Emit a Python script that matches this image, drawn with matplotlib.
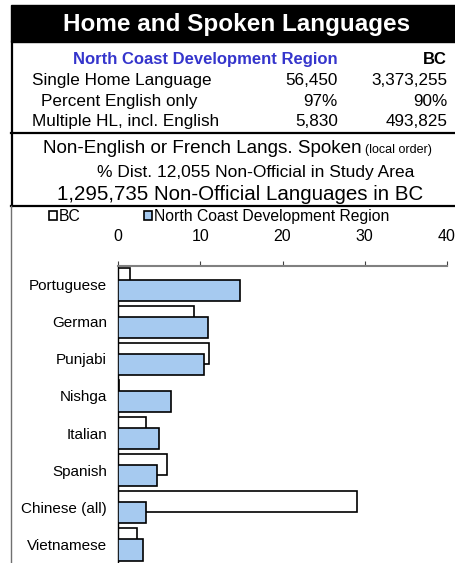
import matplotlib
matplotlib.use("Agg")
import matplotlib.pyplot as plt
from matplotlib.patches import Rectangle

plt.rcParams['font.family'] = ['Liberation Sans', 'DejaVu Sans']

# =========================
# Data
# =========================
languages = ["Portuguese", "German", "Punjabi", "Nishga", "Italian",
             "Spanish", "Chinese (all)", "Vietnamese"]
bc_pct = [1.4, 9.3, 11.1, 0.15, 3.4, 6.0, 29.1, 2.35]
ncdr_pct = [14.8, 11.0, 10.4, 6.4, 5.0, 4.8, 3.4, 3.1]
x_ticks = [0, 10, 20, 30, 40]

region_name = "North Coast Development Region"
summary_rows = ["Single Home Language", "Percent English only",
                "Multiple HL, incl. English"]
region_vals = ["56,450", "97%", "5,830"]
bc_vals = ["3,373,255", "90%", "493,825"]

BLUE = "#a6caf0"
TEXT_BLUE = "#3535cc"

W, H = 455, 563
fig = plt.figure(figsize=(W / 100, H / 100), dpi=100)

# overlay axes in pixel coords for the header boxes and text
deco = fig.add_axes([0, 0, 1, 1])
deco.set_xlim(0, W)
deco.set_ylim(H, 0)
deco.axis("off")

deco.add_patch(Rectangle((11, 5), W - 11, 37, color="black"))
deco.text(237, 24, "Home and Spoken Languages", color="white",
          fontsize=17.5, fontweight="bold", ha="center", va="center")

# summary table
deco.text(338, 64, region_name, color=TEXT_BLUE, fontsize=12,
          fontweight="bold", ha="right", va="baseline")
deco.text(447, 64, "BC", fontsize=12, fontweight="bold",
          ha="right", va="baseline")
row_base = [85, 106, 126]
row_left = [32, 41, 32]
for lab, rv, bv, yb, xl in zip(summary_rows, region_vals, bc_vals,
                               row_base, row_left):
    deco.text(xl, yb, lab, fontsize=12.3, ha="left", va="baseline")
    deco.text(338, yb, rv, fontsize=12.3, ha="right", va="baseline")
    deco.text(447, yb, bv, fontsize=12.3, ha="right", va="baseline")

# subtitle block
deco.text(362, 153, "Non-English or French Langs. Spoken", fontsize=13.6,
          ha="right", va="baseline")
deco.text(365, 153, "(local order)", fontsize=9, ha="left", va="baseline")
deco.text(256, 177, "% Dist. 12,055 Non-Official in Study Area",
          fontsize=12.5, ha="center", va="baseline")
deco.text(240, 200, "1,295,735 Non-Official Languages in BC",
          fontsize=14.8, ha="center", va="baseline")

# borders
deco.plot([12, 12], [42, 206], color="black", lw=1.6)
deco.plot([11, W], [133, 133], color="black", lw=1.6)
deco.plot([11, W], [206, 206], color="black", lw=1.6)
deco.plot([11, 11], [206, H], color="#707070", lw=1.0)

# =========================
# Bar chart
# =========================
ax = fig.add_axes([118 / W, 0, 329 / W, (H - 266) / H])
pos = list(range(len(languages)))
bar_h = 0.57
off = 0.15

bc_bars = ax.barh([p - off for p in pos], bc_pct, height=bar_h,
                  color="white", edgecolor="black", linewidth=1.2,
                  label="BC", zorder=2)
nc_bars = ax.barh([p + off for p in pos], ncdr_pct, height=bar_h,
                  color=BLUE, edgecolor="black", linewidth=1.2,
                  label=region_name, zorder=3)

ax.set_xlim(0, 40)
ax.set_ylim(len(languages) - 0.5, -0.5)
ax.set_yticks(pos)
ax.set_yticklabels(languages, fontsize=11)
ax.tick_params(axis="y", length=0, pad=8)

ax.xaxis.tick_top()
ax.set_xticks(x_ticks)
ax.set_xticklabels([str(t) for t in x_ticks], fontsize=11.5)
ax.tick_params(axis="x", direction="out", length=3.5, color="#404040",
               pad=12.5)

ax.spines["right"].set_visible(False)
ax.spines["bottom"].set_visible(False)
ax.spines["top"].set_color("#808080")
ax.spines["top"].set_linewidth(1.5)
ax.spines["left"].set_color("black")
ax.spines["left"].set_linewidth(1.0)
ax.patch.set_alpha(0)

fig.legend(handles=[bc_bars, nc_bars], labels=["BC", region_name],
           loc="upper left", bbox_to_anchor=(49 / W, 1 - 209 / H),
           ncol=2, frameon=False, fontsize=11.3, handlelength=0.5,
           handleheight=0.5, handletextpad=0.15, columnspacing=4.0,
           borderpad=0, borderaxespad=0)

fig.savefig("out.png", dpi=100)
